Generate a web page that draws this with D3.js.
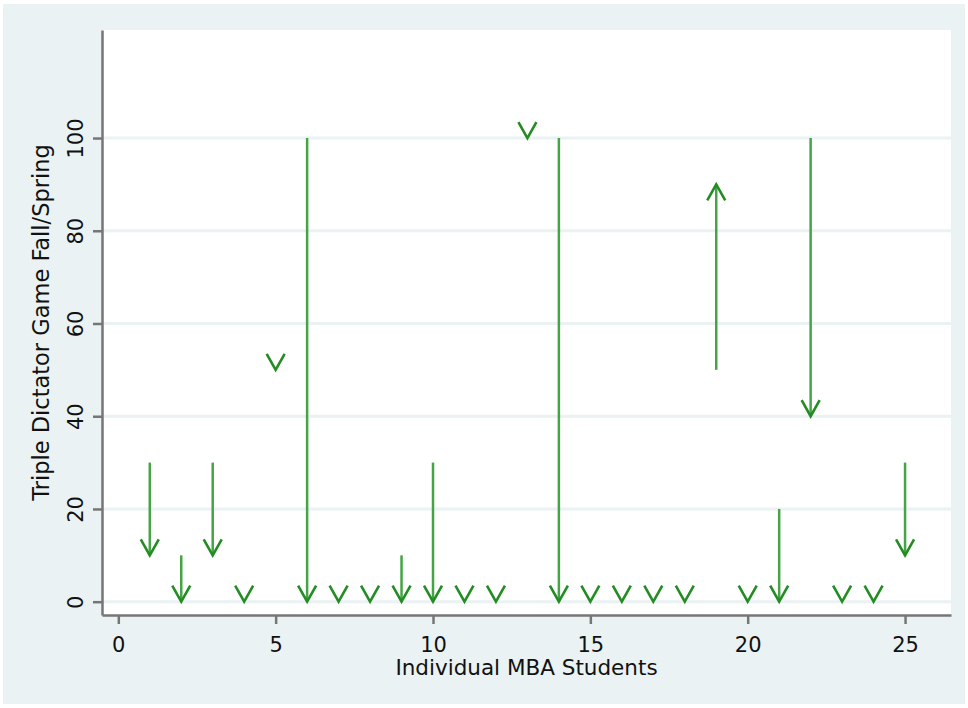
<!DOCTYPE html>
<meta charset="utf-8">
<style>
body { margin: 0; background: #fff; }
text { font-family: "DejaVu Sans", sans-serif; fill: #111; }
.axis path, .axis line { stroke: #767676; stroke-width: 2.5px; }
.grid line { stroke: #eaf2f3; stroke-width: 3px; }
</style>
<svg width="968" height="708"></svg>
<script src="https://d3js.org/d3.v7.min.js"></script>
<script>

// students 1..25, Triple Dictator Game giving in Fall and in Spring
var students = d3.range(1, 26);
var fall   = [30, 10, 30, 0, 50, 100, 0, 0, 10, 30, 0, 0, 100, 100, 0, 0, 0, 0, 50, 0, 20, 100, 0, 0, 30];
var spring = [10, 0, 10, 0, 50, 0, 0, 0, 0, 0, 0, 0, 100, 0, 0, 0, 0, 0, 90, 0, 0, 40, 0, 0, 10];
var xTicks = [0, 5, 10, 15, 20, 25];
var yTicks = [0, 20, 40, 60, 80, 100];

var svg = d3.select("svg");

// plot region (note: "top" is taken by window.top)
var pL = 102, pR = 951, pT = 30, pB = 615;

// outer stata background + white plot region
svg.append("rect").attr("x", 3).attr("y", 4).attr("width", 962).attr("height", 700)
    .style("fill", "#eaf2f3");
svg.append("rect").attr("x", pL).attr("y", pT).attr("width", pR - pL).attr("height", pB - pT)
    .style("fill", "#fff");

var x = d3.scaleLinear().domain([-0.518, 26.46]).range([pL, pR]);
var y = d3.scaleLinear().domain([-2.87, 123.3]).range([pB, pT]);

svg.append("g")
    .attr("class", "grid")
  .selectAll("line")
  .data(yTicks)
  .enter().append("line")
    .attr("x1", pL).attr("x2", pR)
    .attr("y1", function(d) { return y(d); })
    .attr("y2", function(d) { return y(d); });

var yAxis = svg.append("g")
    .attr("class", "axis")
    .attr("transform", "translate(" + pL + ",0)")
    .call(d3.axisLeft(y).tickValues(yTicks).tickSize(9).tickSizeOuter(0));
yAxis.selectAll("text")
    .attr("x", 0).attr("y", 0).attr("dy", 0)
    .attr("transform", "translate(-19,0) rotate(-90)")
    .style("text-anchor", "middle")
    .style("font-size", "21px")
    .style("font-family", "DejaVu Sans, sans-serif")
    .style("fill", "#111");

var xAxis = svg.append("g")
    .attr("class", "axis")
    .attr("transform", "translate(0," + pB + ")")
    .call(d3.axisBottom(x).tickValues(xTicks).tickSize(9).tickSizeOuter(0));
xAxis.selectAll("text")
    .attr("y", 37).attr("dy", 0)
    .style("font-size", "21px")
    .style("font-family", "DejaVu Sans, sans-serif")
    .style("fill", "#111");

svg.append("text")
    .attr("x", (pL + pR) / 2)
    .attr("y", 675)
    .style("text-anchor", "middle")
    .style("font-size", "21.5px")
    .text("Individual MBA Students");

svg.append("text")
    .attr("transform", "translate(49," + (pT + pB) / 2 + ") rotate(-90)")
    .style("text-anchor", "middle")
    .style("font-size", "22.5px")
    .text("Triple Dictator Game Fall/Spring");

// arrows from fall value to spring value
var arrows = students.map(function(s, i) {
  return { s: s, from: fall[i], to: spring[i] };
});

var g = svg.append("g").attr("class", "arrows");

var a = g.selectAll("g")
  .data(arrows)
  .enter().append("g");

a.filter(function(d) { return d.from !== d.to; })
  .append("line")
    .attr("x1", function(d) { return x(d.s); })
    .attr("x2", function(d) { return x(d.s); })
    .attr("y1", function(d) { return y(d.from); })
    .attr("y2", function(d) { return y(d.to); })
    .style("stroke", "#45a445")
    .style("stroke-width", 2.5);

a.append("path")
    .attr("d", function(d) {
      var tx = x(d.s), ty = y(d.to);
      var dir = d.to > d.from ? -1 : 1; // zero-length ones point down
      return "M" + (tx - 9) + "," + (ty - dir * 16) + "L" + tx + "," + ty + "L" + (tx + 9) + "," + (ty - dir * 16);
    })
    .style("fill", "none")
    .style("stroke", "#238c23")
    .style("stroke-width", 2.6);

</script>
